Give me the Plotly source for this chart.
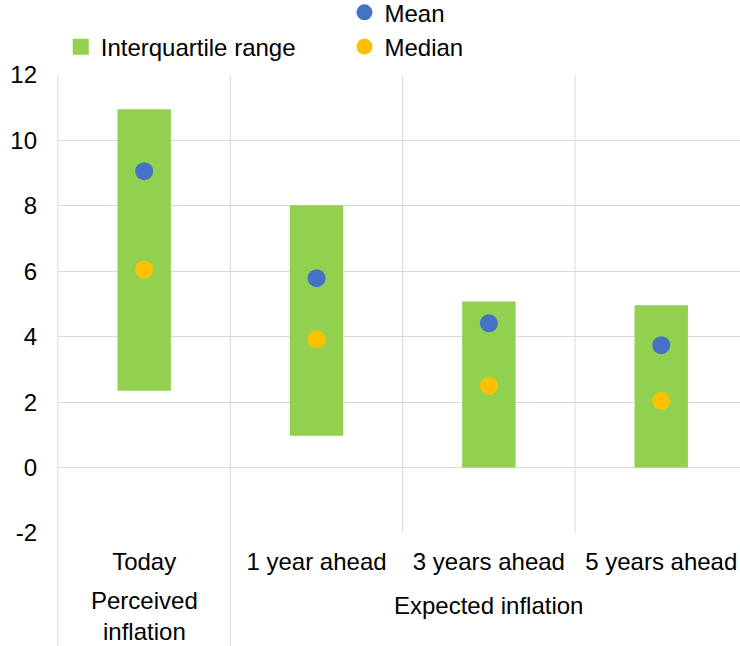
import plotly.graph_objects as go

# ---- data ----
categories = ["Today", "1 year ahead", "3 years ahead", "5 years ahead"]
group_labels = ["Perceived<br>inflation", "Expected inflation"]
group_centers = [0, 2]
q1 = [2.35, 0.97, 0.0, 0.0]
q3 = [10.95, 8.02, 5.08, 4.96]
mean_vals = [9.06, 5.79, 4.41, 3.74]
median_vals = [6.05, 3.92, 2.50, 2.04]
y_ticks = [-2, 0, 2, 4, 6, 8, 10, 12]
y_tick_text = ["-2", "0", "2", "4", "6", "8", "10", "12"]

GREEN = "#92D050"
BLUE = "#4472C4"
GOLD = "#FFC000"
GRID = "#D9D9D9"
FONT = "Liberation Sans, Arial, sans-serif"
FS = 24

xs = list(range(len(categories)))
x_range = [-0.5, 3.457]

fig = go.Figure()
fig.add_trace(go.Bar(
    x=xs, y=[h - l for h, l in zip(q3, q1)], base=q1, width=0.31,
    marker=dict(color=GREEN, line=dict(width=0)), showlegend=False,
    name="Interquartile range", hoverinfo="skip"))
# legend entry for the interquartile range
fig.add_trace(go.Scatter(
    x=[None], y=[None], mode="markers", name="Interquartile range",
    marker=dict(symbol="square", size=17, color=GREEN), legend="legend"))
fig.add_trace(go.Scatter(
    x=xs, y=mean_vals, mode="markers", name="Mean",
    marker=dict(color=BLUE, size=18), legend="legend2"))
fig.add_trace(go.Scatter(
    x=xs, y=median_vals, mode="markers", name="Median",
    marker=dict(color=GOLD, size=18), legend="legend2"))

plot_top, plot_bottom, H = 75, 533, 646
ph = plot_bottom - plot_top
bottom_paper = -(H - plot_bottom) / ph

shapes = []
shapes.append(dict(type="line", xref="paper", yref="paper", x0=0, x1=0,
                   y0=1, y1=bottom_paper, line=dict(color=GRID, width=1)))
shapes.append(dict(type="line", xref="x", yref="paper", x0=0.5, x1=0.5,
                   y0=1, y1=bottom_paper, line=dict(color=GRID, width=1)))
for xv in [1.5, 2.5]:
    shapes.append(dict(type="line", xref="x", yref="paper", x0=xv, x1=xv,
                       y0=1, y1=0, line=dict(color=GRID, width=1)))

annotations = []
annotations.append(dict(text=group_labels[0], x=group_centers[0], xref="x",
                        y=-(615.5 - plot_bottom) / ph, yref="paper",
                        showarrow=False, yanchor="middle", xanchor="center",
                        font=dict(family=FONT, size=FS, color="black")))
annotations.append(dict(text=group_labels[1], x=group_centers[1], xref="x",
                        y=-(605 - plot_bottom) / ph, yref="paper",
                        showarrow=False, yanchor="middle", xanchor="center",
                        font=dict(family=FONT, size=FS, color="black")))

fig.update_layout(
    width=740, height=646,
    margin=dict(l=58, r=0, t=plot_top, b=H - plot_bottom, pad=0, autoexpand=False),
    paper_bgcolor="white", plot_bgcolor="white",
    font=dict(family=FONT, size=FS, color="black"),
    barmode="overlay",
    xaxis=dict(range=x_range, tickvals=xs, ticktext=categories,
               showgrid=False, zeroline=False, showline=False, ticks="",
               ticklabelstandoff=12, tickfont=dict(size=FS, color="black")),
    yaxis=dict(range=[-2, 12], tickvals=y_ticks, ticktext=y_tick_text,
               showgrid=True, gridcolor=GRID,
               gridwidth=1, zeroline=False, showline=False, ticks="",
               ticklabelstandoff=20, tickfont=dict(size=FS, color="black")),
    legend=dict(x=0.004, y=1.11, xanchor="left", yanchor="top",
                bgcolor="rgba(0,0,0,0)", font=dict(size=FS, color="black"),
                itemclick=False, itemdoubleclick=False),
    legend2=dict(x=0.42, y=1.185, xanchor="left", yanchor="top",
                 bgcolor="rgba(0,0,0,0)", font=dict(size=FS, color="black"),
                 itemclick=False, itemdoubleclick=False, tracegroupgap=0),
    shapes=shapes, annotations=annotations,
)

fig.write_html(
    "out.html",
    config={"displayModeBar": False},
    post_script="document.body.style.margin='0';document.body.style.overflow='hidden';",
)
